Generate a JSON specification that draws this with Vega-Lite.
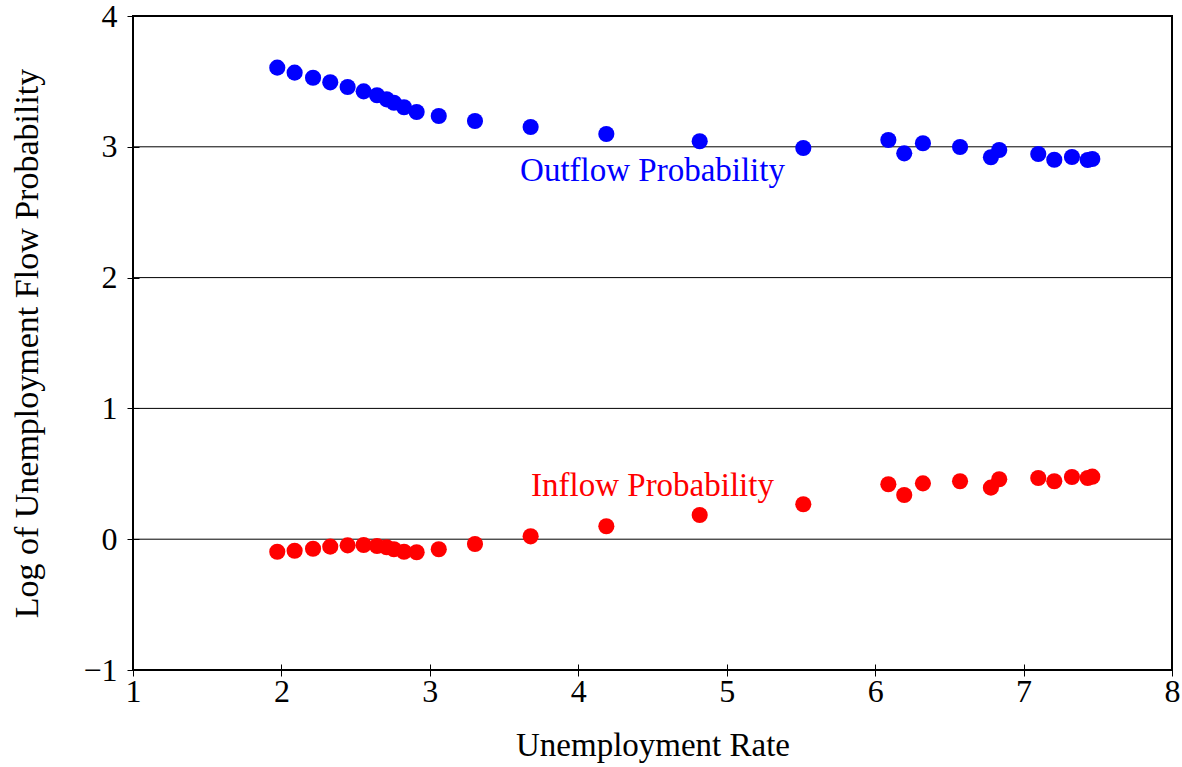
{
  "$schema": "https://vega.github.io/schema/vega-lite/v6.json",
  "width": 1039,
  "height": 654,
  "autosize": "none",
  "padding": {"left": 133, "top": 16, "right": 10, "bottom": 97},
  "background": "white",
  "config": {
    "view": {"stroke": "black", "strokeWidth": 2},
    "font": "Liberation Serif"
  },
  "datasets": {
    "pts": [
      {"rate": 1.972, "value": 3.605, "flow": "Outflow"},
      {"rate": 2.089, "value": 3.567, "flow": "Outflow"},
      {"rate": 2.213, "value": 3.528, "flow": "Outflow"},
      {"rate": 2.329, "value": 3.493, "flow": "Outflow"},
      {"rate": 2.446, "value": 3.457, "flow": "Outflow"},
      {"rate": 2.554, "value": 3.424, "flow": "Outflow"},
      {"rate": 2.644, "value": 3.394, "flow": "Outflow"},
      {"rate": 2.709, "value": 3.363, "flow": "Outflow"},
      {"rate": 2.758, "value": 3.337, "flow": "Outflow"},
      {"rate": 2.826, "value": 3.302, "flow": "Outflow"},
      {"rate": 2.911, "value": 3.266, "flow": "Outflow"},
      {"rate": 3.060, "value": 3.235, "flow": "Outflow"},
      {"rate": 3.304, "value": 3.197, "flow": "Outflow"},
      {"rate": 3.679, "value": 3.151, "flow": "Outflow"},
      {"rate": 4.189, "value": 3.098, "flow": "Outflow"},
      {"rate": 4.818, "value": 3.042, "flow": "Outflow"},
      {"rate": 5.516, "value": 2.991, "flow": "Outflow"},
      {"rate": 6.089, "value": 3.052, "flow": "Outflow"},
      {"rate": 6.196, "value": 2.950, "flow": "Outflow"},
      {"rate": 6.322, "value": 3.027, "flow": "Outflow"},
      {"rate": 6.572, "value": 2.998, "flow": "Outflow"},
      {"rate": 6.780, "value": 2.920, "flow": "Outflow"},
      {"rate": 6.836, "value": 2.976, "flow": "Outflow"},
      {"rate": 7.099, "value": 2.945, "flow": "Outflow"},
      {"rate": 7.207, "value": 2.901, "flow": "Outflow"},
      {"rate": 7.326, "value": 2.922, "flow": "Outflow"},
      {"rate": 7.432, "value": 2.899, "flow": "Outflow"},
      {"rate": 7.463, "value": 2.907, "flow": "Outflow"},
      {"rate": 1.972, "value": -0.096, "flow": "Inflow"},
      {"rate": 2.089, "value": -0.088, "flow": "Inflow"},
      {"rate": 2.213, "value": -0.073, "flow": "Inflow"},
      {"rate": 2.329, "value": -0.057, "flow": "Inflow"},
      {"rate": 2.446, "value": -0.047, "flow": "Inflow"},
      {"rate": 2.554, "value": -0.044, "flow": "Inflow"},
      {"rate": 2.644, "value": -0.052, "flow": "Inflow"},
      {"rate": 2.709, "value": -0.062, "flow": "Inflow"},
      {"rate": 2.758, "value": -0.077, "flow": "Inflow"},
      {"rate": 2.826, "value": -0.096, "flow": "Inflow"},
      {"rate": 2.911, "value": -0.100, "flow": "Inflow"},
      {"rate": 3.060, "value": -0.077, "flow": "Inflow"},
      {"rate": 3.304, "value": -0.037, "flow": "Inflow"},
      {"rate": 3.679, "value": 0.022, "flow": "Inflow"},
      {"rate": 4.189, "value": 0.099, "flow": "Inflow"},
      {"rate": 4.818, "value": 0.185, "flow": "Inflow"},
      {"rate": 5.516, "value": 0.267, "flow": "Inflow"},
      {"rate": 6.089, "value": 0.420, "flow": "Inflow"},
      {"rate": 6.196, "value": 0.338, "flow": "Inflow"},
      {"rate": 6.322, "value": 0.427, "flow": "Inflow"},
      {"rate": 6.572, "value": 0.443, "flow": "Inflow"},
      {"rate": 6.780, "value": 0.394, "flow": "Inflow"},
      {"rate": 6.836, "value": 0.458, "flow": "Inflow"},
      {"rate": 7.099, "value": 0.468, "flow": "Inflow"},
      {"rate": 7.207, "value": 0.443, "flow": "Inflow"},
      {"rate": 7.326, "value": 0.476, "flow": "Inflow"},
      {"rate": 7.432, "value": 0.468, "flow": "Inflow"},
      {"rate": 7.463, "value": 0.478, "flow": "Inflow"}
    ],
    "labels": [
      {"rate": 4.5, "value": 2.815, "flow": "Outflow", "label": "Outflow Probability"},
      {"rate": 4.5, "value": 0.407, "flow": "Inflow", "label": "Inflow Probability"}
    ]
  },
  "layer": [
    {
      "data": {"values": [{"v": 0}, {"v": 1}, {"v": 2}, {"v": 3}]},
      "mark": {"type": "rule", "color": "black", "strokeWidth": 1},
      "encoding": {"y": {"field": "v", "type": "quantitative", "scale": {"domain": [-1, 4], "nice": false, "zero": false}}}
    },
    {
      "data": {"name": "pts"},
      "mark": {"type": "circle", "size": 260, "opacity": 1},
      "encoding": {
        "x": {
          "field": "rate", "type": "quantitative",
          "scale": {"domain": [1, 8], "nice": false, "zero": false},
          "axis": {
            "title": "Unemployment Rate",
            "values": [1, 2, 3, 4, 5, 6, 7, 8],
            "format": "d",
            "grid": false,
            "domain": false,
            "offset": -6,
            "tickSize": 12,
            "tickColor": "black",
            "tickWidth": 1,
            "labelPadding": 0,
            "labelFlush": false,
            "labelOverlap": false,
            "labelBound": false,
            "labelFontSize": 32,
            "labelColor": "black",
            "labelFont": "Liberation Serif",
            "titleFont": "Liberation Serif",
            "titleFontSize": 33,
            "titleFontWeight": "normal",
            "titleColor": "black",
            "titlePadding": 22
          }
        },
        "y": {
          "field": "value", "type": "quantitative",
          "scale": {"domain": [-1, 4], "nice": false, "zero": false},
          "axis": {
            "title": "Log of Unemployment Flow Probability",
            "values": [-1, 0, 1, 2, 3, 4],
            "format": "d",
            "grid": false,
            "domain": false,
            "offset": -6,
            "tickSize": 12,
            "tickColor": "black",
            "tickWidth": 1,
            "labelPadding": 10,
            "labelFlush": false,
            "labelOverlap": false,
            "labelBound": false,
            "labelFontSize": 32,
            "labelColor": "black",
            "labelFont": "Liberation Serif",
            "titleFont": "Liberation Serif",
            "titleFontSize": 34,
            "titleFontWeight": "normal",
            "titleColor": "black",
            "titlePadding": 38
          }
        },
        "color": {
          "field": "flow", "type": "nominal",
          "scale": {"domain": ["Outflow", "Inflow"], "range": ["#0000ff", "#ff0000"]},
          "legend": null
        }
      }
    },
    {
      "data": {"name": "labels"},
      "mark": {"type": "text", "fontSize": 33, "font": "Liberation Serif", "align": "center", "baseline": "middle"},
      "encoding": {
        "x": {"field": "rate", "type": "quantitative"},
        "y": {"field": "value", "type": "quantitative"},
        "text": {"field": "label"},
        "color": {"field": "flow", "type": "nominal", "legend": null}
      }
    }
  ]
}
